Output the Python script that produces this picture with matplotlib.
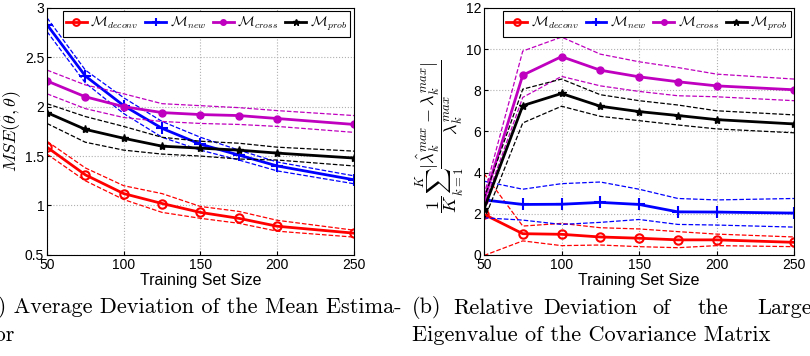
import matplotlib
matplotlib.use('Agg')
import matplotlib.pyplot as plt

plt.rcParams['font.family'] = ['Liberation Sans', 'DejaVu Sans']
plt.rcParams['mathtext.fontset'] = 'cm'

# Training set sizes
sizes = [50, 75, 100, 125, 150, 175, 200, 250]

# (a) MSE of the mean estimator: mean, upper and lower dashed bounds
mse_deconv = [1.59, 1.31, 1.12, 1.02, 0.93, 0.87, 0.79, 0.72]
mse_deconv_hi = [1.65, 1.38, 1.20, 1.12, 0.99, 0.94, 0.85, 0.75]
mse_deconv_lo = [1.52, 1.25, 1.06, 0.93, 0.87, 0.82, 0.74, 0.68]
mse_new = [2.83, 2.31, 2.01, 1.78, 1.62, 1.51, 1.40, 1.26]
mse_new_hi = [2.90, 2.37, 2.09, 1.85, 1.69, 1.56, 1.44, 1.30]
mse_new_lo = [2.76, 2.24, 1.93, 1.69, 1.56, 1.46, 1.35, 1.22]
mse_cross = [2.26, 2.10, 2.00, 1.94, 1.92, 1.91, 1.88, 1.82]
mse_cross_hi = [2.37, 2.22, 2.13, 2.03, 2.01, 1.99, 1.96, 1.91]
mse_cross_lo = [2.13, 1.98, 1.89, 1.85, 1.83, 1.82, 1.80, 1.74]
mse_prob = [1.94, 1.77, 1.68, 1.60, 1.58, 1.56, 1.53, 1.48]
mse_prob_hi = [2.03, 1.90, 1.80, 1.69, 1.65, 1.63, 1.59, 1.55]
mse_prob_lo = [1.83, 1.64, 1.56, 1.52, 1.50, 1.47, 1.46, 1.40]

# (b) relative deviation of the largest eigenvalue
eig_deconv = [1.97, 1.03, 1.00, 0.87, 0.81, 0.73, 0.73, 0.61]
eig_deconv_hi = [3.95, 1.40, 1.53, 1.32, 1.26, 1.13, 1.01, 0.87]
eig_deconv_lo = [-0.03, 0.68, 0.45, 0.48, 0.40, 0.35, 0.45, 0.40]
eig_new = [2.67, 2.45, 2.46, 2.55, 2.45, 2.09, 2.08, 2.03]
eig_new_hi = [3.58, 3.19, 3.46, 3.54, 3.19, 2.74, 2.67, 2.74]
eig_new_lo = [1.80, 1.69, 1.48, 1.58, 1.72, 1.48, 1.45, 1.35]
eig_cross = [2.64, 8.73, 9.63, 8.97, 8.65, 8.41, 8.21, 8.02]
eig_cross_hi = [2.90, 9.90, 10.58, 9.75, 9.38, 9.10, 8.78, 8.54]
eig_cross_lo = [2.40, 7.65, 8.67, 8.21, 7.94, 7.73, 7.68, 7.49]
eig_prob = [2.22, 7.25, 7.84, 7.22, 6.96, 6.77, 6.57, 6.36]
eig_prob_hi = [2.74, 8.05, 8.54, 7.78, 7.49, 7.28, 7.00, 6.80]
eig_prob_lo = [1.69, 6.41, 7.22, 6.73, 6.52, 6.31, 6.12, 5.93]

labels = [r'$\mathcal{M}_{deconv}$', r'$\mathcal{M}_{new}$',
          r'$\mathcal{M}_{cross}$', r'$\mathcal{M}_{prob}$']
colors = ['#ff0000', '#0000ff', '#bf00bf', '#000000']
styles = [dict(marker='o', ms=6, mfc='none', mew=1.5),
          dict(marker='+', ms=8, mew=1.5),
          dict(marker='o', ms=5),
          dict(marker='*', ms=6)]


def draw_panel(ax, series, ylim, yticks, ylabel, ylabel_size, label_xy):
    for (mean, hi, lo), c, st, lab in zip(series, colors, styles, labels):
        ax.plot(sizes, hi, '--', color=c, lw=0.9)
        ax.plot(sizes, lo, '--', color=c, lw=0.9)
        ax.plot(sizes, mean, '-', color=c, lw=2.0, label=lab, **st)
    ax.set_xlim(50, 250)
    ax.set_ylim(*ylim)
    ax.set_xticks([50, 100, 150, 200, 250])
    ax.set_yticks(yticks)
    ax.grid(True, linestyle=':', color='#b0b0b0', lw=0.8)
    ax.tick_params(labelsize=10, direction='in', length=3, pad=2)
    ax.set_xlabel('Training Set Size', fontsize=11.5, labelpad=1)
    ax.set_ylabel(ylabel, fontsize=ylabel_size)
    ax.yaxis.set_label_coords(*label_xy)
    leg = ax.legend(loc='upper right', ncol=4, fontsize=10, handlelength=1.5,
                    handletextpad=0.25, columnspacing=0.5, borderaxespad=0.25,
                    fancybox=False, edgecolor='black', framealpha=1,
                    borderpad=0.25, markerscale=0.8)
    leg.get_frame().set_linewidth(0.8)


fig = plt.figure(figsize=(8.1, 3.56), dpi=100)
ax1 = fig.add_axes([0.058, 0.284, 0.379, 0.694])
ax2 = fig.add_axes([0.5975, 0.284, 0.383, 0.694])

draw_panel(ax1,
           [(mse_deconv, mse_deconv_hi, mse_deconv_lo),
            (mse_new, mse_new_hi, mse_new_lo),
            (mse_cross, mse_cross_hi, mse_cross_lo),
            (mse_prob, mse_prob_hi, mse_prob_lo)],
           (0.5, 3), [0.5, 1, 1.5, 2, 2.5, 3],
           r'$MSE(\hat{\theta},\theta)$', 13, (-0.078, 0.5))
ax1.set_yticklabels(['0.5', '1', '1.5', '2', '2.5', '3'])

draw_panel(ax2,
           [(eig_deconv, eig_deconv_hi, eig_deconv_lo),
            (eig_new, eig_new_hi, eig_new_lo),
            (eig_cross, eig_cross_hi, eig_cross_lo),
            (eig_prob, eig_prob_hi, eig_prob_lo)],
           (0, 12), [0, 2, 4, 6, 8, 10, 12],
           r'$\dfrac{1}{K}\sum_{k=1}^{K}\dfrac{|\hat{\lambda}_k^{max}-\lambda_k^{max}|}{\lambda_k^{max}}$',
           13, (-0.055, 0.48))

# captions (serif, partly cut off at the figure edges)
cap = dict(fontsize=16, family='cmr10', va='center')
fig.text(-0.027, 0.135, '(a) Average Deviation of the Mean Estima-', **cap)
fig.text(-0.016, 0.058, 'tor', **cap)
cap_b = ['(b)', 'Relative', 'Deviation', 'of', 'the', 'Largest']
cap_b_x = [412, 453, 543, 652, 698, 757]
for word, xp in zip(cap_b, cap_b_x):
    fig.text(xp / 810, 0.135, word, **cap)
fig.text(412 / 810, 0.058, 'Eigenvalue of the Covariance Matrix', **cap)

fig.savefig('out.png', dpi=100)
